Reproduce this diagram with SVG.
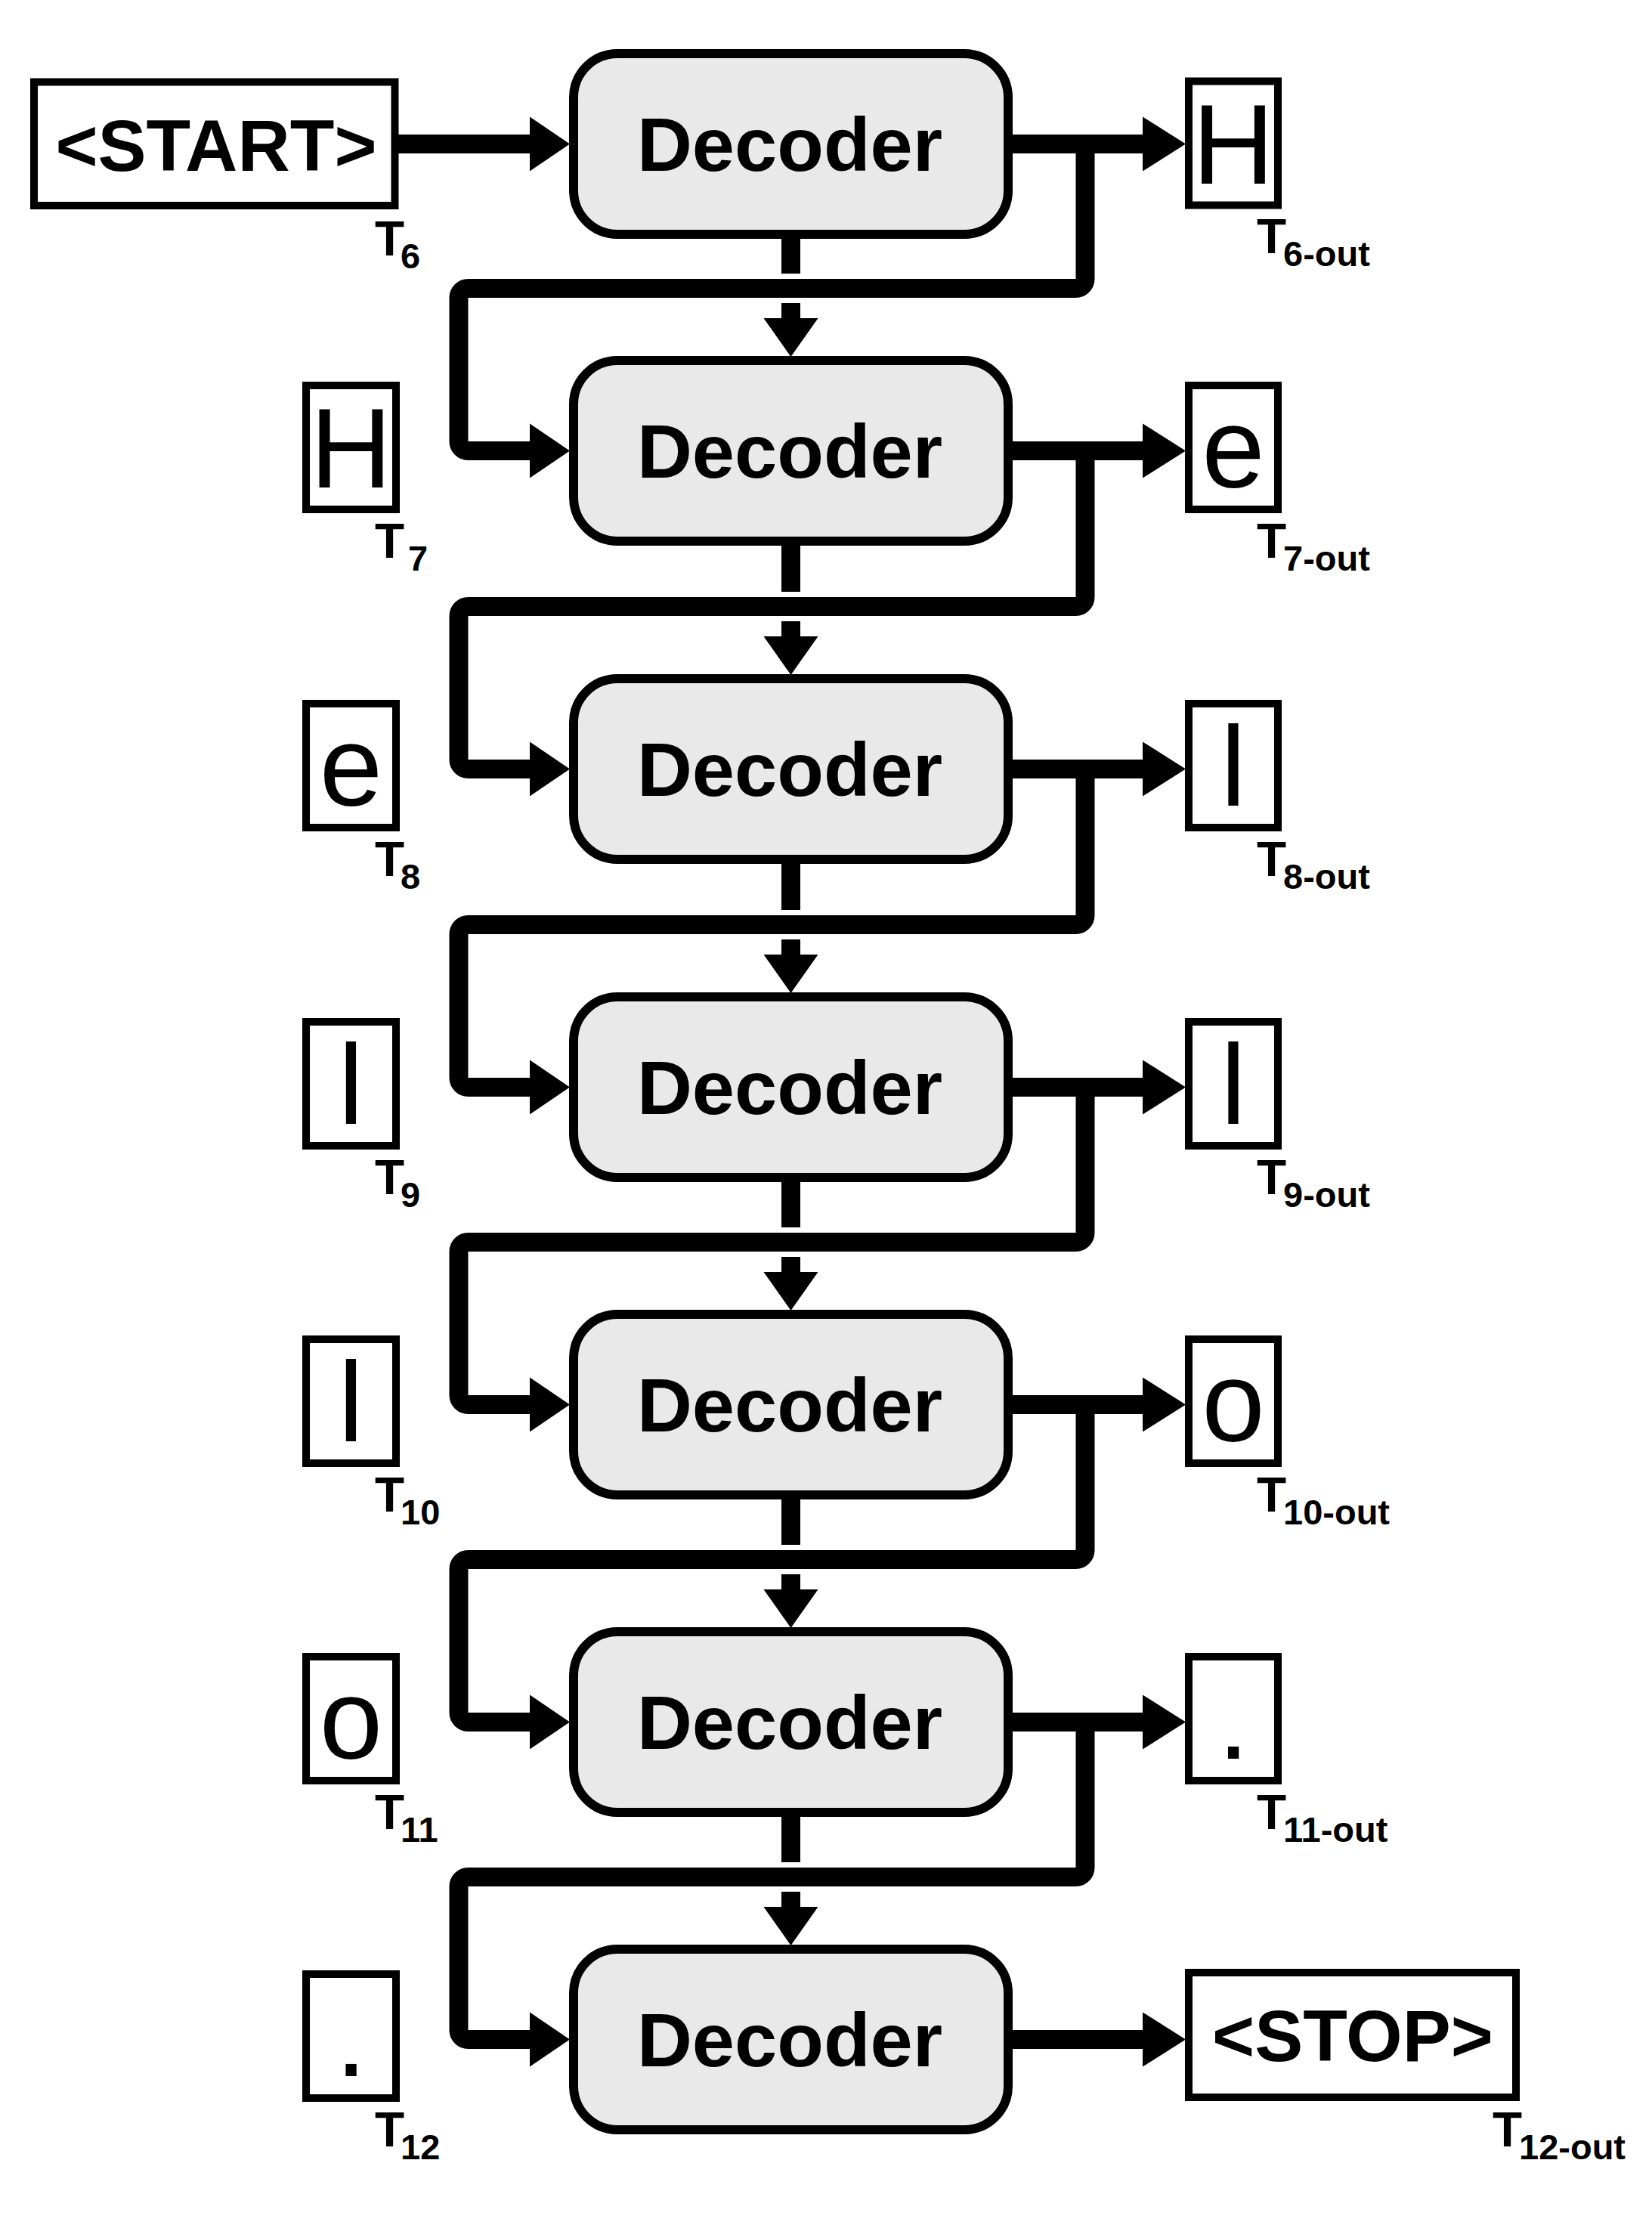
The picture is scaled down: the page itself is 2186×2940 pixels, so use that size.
<svg xmlns="http://www.w3.org/2000/svg" width="2186" height="2940" viewBox="0 0 2186 2940">
<style>
.dec{fill:#e9e9e9;stroke:#000;stroke-width:12}
.box{fill:#fff;stroke:#000;stroke-width:10}
.dt{font-family:"Liberation Sans",Arial,sans-serif;font-weight:bold;font-size:101px;text-anchor:middle;fill:#000}
.big{font-family:"Liberation Sans",Arial,sans-serif;font-weight:bold;font-size:96px;text-anchor:middle;fill:#000}
.ch{font-family:"Liberation Sans",Arial,sans-serif;font-size:150px;text-anchor:middle;fill:#000}
.T{font-family:"Liberation Sans",Arial,sans-serif;font-weight:bold;font-size:64px;fill:#000}
.s{font-family:"Liberation Sans",Arial,sans-serif;font-weight:bold;font-size:47px;fill:#000}
.ln{fill:none;stroke:#000;stroke-width:25}
.ah{fill:#000}
</style>
<rect width="2186" height="2940" fill="#fff"/>
<g id="connectors">
<line class="ln" x1="527" y1="190.5" x2="702" y2="190.5" stroke-width="26"/>
<polygon class="ah" points="701,154.5 754,190.5 701,226.5"/>
<!-- row outputs -->
<line class="ln" x1="1338" y1="190.5" x2="1513" y2="190.5"/>
<polygon class="ah" points="1512,154.5 1569,190.5 1512,226.5"/>
<line class="ln" x1="1338" y1="596.5" x2="1513" y2="596.5"/>
<polygon class="ah" points="1512,560.5 1569,596.5 1512,632.5"/>
<line class="ln" x1="1338" y1="1017.5" x2="1513" y2="1017.5"/>
<polygon class="ah" points="1512,981.5 1569,1017.5 1512,1053.5"/>
<line class="ln" x1="1338" y1="1438.5" x2="1513" y2="1438.5"/>
<polygon class="ah" points="1512,1402.5 1569,1438.5 1512,1474.5"/>
<line class="ln" x1="1338" y1="1858.5" x2="1513" y2="1858.5"/>
<polygon class="ah" points="1512,1822.5 1569,1858.5 1512,1894.5"/>
<line class="ln" x1="1338" y1="2278.5" x2="1513" y2="2278.5"/>
<polygon class="ah" points="1512,2242.5 1569,2278.5 1512,2314.5"/>
<line class="ln" x1="1338" y1="2698.5" x2="1513" y2="2698.5"/>
<polygon class="ah" points="1512,2662.5 1569,2698.5 1512,2734.5"/>
<!-- feedback loops -->
<path class="ln" d="M1436 190.5 V369 A12.5 12.5 0 0 1 1423.5 381.5 H619.5 A12.5 12.5 0 0 0 607 394 V584 A12.5 12.5 0 0 0 619.5 596.5 H702"/>
<polygon class="ah" points="701,560.5 754,596.5 701,632.5"/>
<path class="ln" d="M1436 596.5 V790 A12.5 12.5 0 0 1 1423.5 802.5 H619.5 A12.5 12.5 0 0 0 607 815 V1005 A12.5 12.5 0 0 0 619.5 1017.5 H702"/>
<polygon class="ah" points="701,981.5 754,1017.5 701,1053.5"/>
<path class="ln" d="M1436 1017.5 V1211 A12.5 12.5 0 0 1 1423.5 1223.5 H619.5 A12.5 12.5 0 0 0 607 1236 V1426 A12.5 12.5 0 0 0 619.5 1438.5 H702"/>
<polygon class="ah" points="701,1402.5 754,1438.5 701,1474.5"/>
<path class="ln" d="M1436 1438.5 V1631 A12.5 12.5 0 0 1 1423.5 1643.5 H619.5 A12.5 12.5 0 0 0 607 1656 V1846 A12.5 12.5 0 0 0 619.5 1858.5 H702"/>
<polygon class="ah" points="701,1822.5 754,1858.5 701,1894.5"/>
<path class="ln" d="M1436 1858.5 V2051 A12.5 12.5 0 0 1 1423.5 2063.5 H619.5 A12.5 12.5 0 0 0 607 2076 V2266 A12.5 12.5 0 0 0 619.5 2278.5 H702"/>
<polygon class="ah" points="701,2242.5 754,2278.5 701,2314.5"/>
<path class="ln" d="M1436 2278.5 V2471 A12.5 12.5 0 0 1 1423.5 2483.5 H619.5 A12.5 12.5 0 0 0 607 2496 V2686 A12.5 12.5 0 0 0 619.5 2698.5 H702"/>
<polygon class="ah" points="701,2662.5 754,2698.5 701,2734.5"/>
<!-- vertical decoder-to-decoder connectors -->
<rect class="ah" x="1034" y="310" width="25" height="52"/>
<rect class="ah" x="1034" y="401" width="25" height="21"/>
<polygon class="ah" points="1010.5,421 1082.5,421 1046.5,472"/>
<rect class="ah" x="1034" y="716" width="25" height="67"/>
<rect class="ah" x="1034" y="822" width="25" height="21"/>
<polygon class="ah" points="1010.5,842 1082.5,842 1046.5,893"/>
<rect class="ah" x="1034" y="1137" width="25" height="67"/>
<rect class="ah" x="1034" y="1243" width="25" height="21"/>
<polygon class="ah" points="1010.5,1263 1082.5,1263 1046.5,1314"/>
<rect class="ah" x="1034" y="1558" width="25" height="66"/>
<rect class="ah" x="1034" y="1663" width="25" height="21"/>
<polygon class="ah" points="1010.5,1683 1082.5,1683 1046.5,1734"/>
<rect class="ah" x="1034" y="1978" width="25" height="66"/>
<rect class="ah" x="1034" y="2083" width="25" height="21"/>
<polygon class="ah" points="1010.5,2103 1082.5,2103 1046.5,2154"/>
<rect class="ah" x="1034" y="2398" width="25" height="66"/>
<rect class="ah" x="1034" y="2503" width="25" height="21"/>
<polygon class="ah" points="1010.5,2523 1082.5,2523 1046.5,2574"/>
</g>
<g id="start">
<rect class="box" x="45" y="108.5" width="477.5" height="163.5"/>
<text class="big" x="286" y="225.5" textLength="425" lengthAdjust="spacingAndGlyphs">&lt;START&gt;</text>
<text><tspan class="T" x="496" y="338">T</tspan><tspan class="s" x="530" y="355">6</tspan></text>
</g>
<g id="decoder1"><rect class="dec" x="759" y="71" width="575" height="239" rx="58"/><text class="dt" x="1045" y="226">Decoder</text></g>
<g id="decoder2"><rect class="dec" x="759" y="477" width="575" height="239" rx="58"/><text class="dt" x="1045" y="632">Decoder</text></g>
<g id="decoder3"><rect class="dec" x="759" y="898" width="575" height="239" rx="58"/><text class="dt" x="1045" y="1053">Decoder</text></g>
<g id="decoder4"><rect class="dec" x="759" y="1319" width="575" height="239" rx="58"/><text class="dt" x="1045" y="1474">Decoder</text></g>
<g id="decoder5"><rect class="dec" x="759" y="1739" width="575" height="239" rx="58"/><text class="dt" x="1045" y="1894">Decoder</text></g>
<g id="decoder6"><rect class="dec" x="759" y="2159" width="575" height="239" rx="58"/><text class="dt" x="1045" y="2314">Decoder</text></g>
<g id="decoder7"><rect class="dec" x="759" y="2579" width="575" height="239" rx="58"/><text class="dt" x="1045" y="2734">Decoder</text></g>
<g id="in7"><rect class="box" x="405" y="510" width="119" height="164"/><text class="ch" x="464.5" y="645">H</text>
<text><tspan class="T" x="496" y="738">T</tspan><tspan class="s" x="540" y="755">7</tspan></text></g>
<g id="in8"><rect class="box" x="405" y="931" width="119" height="164"/><text class="ch" x="464.5" y="1066">e</text>
<text><tspan class="T" x="496" y="1159">T</tspan><tspan class="s" x="530" y="1176">8</tspan></text></g>
<g id="in9"><rect class="box" x="405" y="1352" width="119" height="164"/><text class="ch" x="464.5" y="1487">l</text>
<text><tspan class="T" x="496" y="1580">T</tspan><tspan class="s" x="530" y="1597">9</tspan></text></g>
<g id="in10"><rect class="box" x="405" y="1772" width="119" height="164"/><text class="ch" x="464.5" y="1907">l</text>
<text><tspan class="T" x="496" y="2000">T</tspan><tspan class="s" x="530" y="2017">10</tspan></text></g>
<g id="in11"><rect class="box" x="405" y="2192" width="119" height="164"/><text class="ch" x="464.5" y="2327">o</text>
<text><tspan class="T" x="496" y="2420">T</tspan><tspan class="s" x="530" y="2437">11</tspan></text></g>
<g id="in12"><rect class="box" x="405" y="2612" width="119" height="164"/><text class="ch" x="464.5" y="2747">.</text>
<text><tspan class="T" x="496" y="2840">T</tspan><tspan class="s" x="530" y="2857">12</tspan></text></g>
<g id="out6"><rect class="box" x="1573" y="107.5" width="118" height="164"/><text class="ch" x="1632" y="242.5">H</text>
<text><tspan class="T" x="1663" y="335">T</tspan><tspan class="s" x="1698" y="352">6-out</tspan></text></g>
<g id="out7"><rect class="box" x="1573" y="510" width="118" height="164"/><text class="ch" x="1632" y="645">e</text>
<text><tspan class="T" x="1663" y="738">T</tspan><tspan class="s" x="1698" y="755">7-out</tspan></text></g>
<g id="out8"><rect class="box" x="1573" y="931" width="118" height="164"/><text class="ch" x="1632" y="1066">l</text>
<text><tspan class="T" x="1663" y="1159">T</tspan><tspan class="s" x="1698" y="1176">8-out</tspan></text></g>
<g id="out9"><rect class="box" x="1573" y="1352" width="118" height="164"/><text class="ch" x="1632" y="1487">l</text>
<text><tspan class="T" x="1663" y="1580">T</tspan><tspan class="s" x="1698" y="1597">9-out</tspan></text></g>
<g id="out10"><rect class="box" x="1573" y="1772" width="118" height="164"/><text class="ch" x="1632" y="1907">o</text>
<text><tspan class="T" x="1663" y="2000">T</tspan><tspan class="s" x="1698" y="2017">10-out</tspan></text></g>
<g id="out11"><rect class="box" x="1573" y="2192" width="118" height="164"/><text class="ch" x="1632" y="2327">.</text>
<text><tspan class="T" x="1663" y="2420">T</tspan><tspan class="s" x="1698" y="2437">11-out</tspan></text></g>
<g id="stop"><rect class="box" x="1573" y="2610" width="433" height="165"/><text class="big" x="1790" y="2727">&lt;STOP&gt;</text>
<text><tspan class="T" x="1975" y="2840">T</tspan><tspan class="s" x="2010" y="2857">12-out</tspan></text></g>
</svg>
